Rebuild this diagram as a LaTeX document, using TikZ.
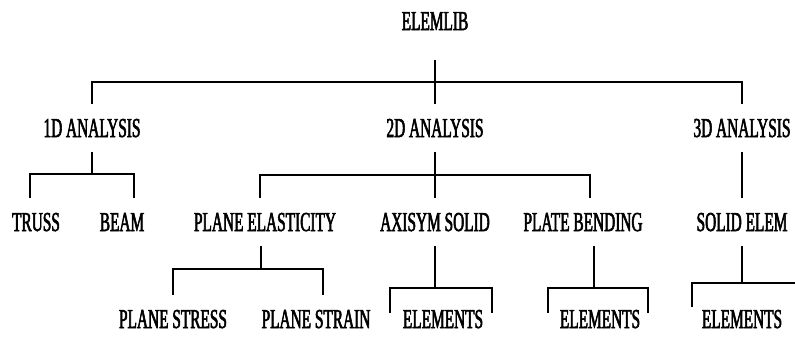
\documentclass[tikz,border=0pt]{standalone}
\usepackage{fontspec}
\setmainfont[FakeStretch=0.56,FakeBold=2]{Liberation Serif}

\begin{document}
\begin{tikzpicture}[x=0.025cm, y=-0.025cm, line width=1.3pt,
    lbl/.style={inner sep=0pt, outer ysep=10.5pt, text height=12.8pt, text depth=0pt,
      font=\fontsize{19.5}{20}\selectfont}]
  \useasboundingbox (0,0) rectangle (795,338);

  % library root and analysis types
  \node[lbl, outer ysep=21pt] (lib) at (435,21) {ELEMLIB};
  \node[lbl] (d1) at (92,128) {1D ANALYSIS};
  \node[lbl] (d2) at (435,128) {2D ANALYSIS};
  \node[lbl] (d3) at (742,128) {3D ANALYSIS};

  % element families
  \node[lbl] (b1) at (36,222) {TRUSS};
  \node[lbl] (b2) at (122,222) {BEAM};
  \node[lbl] (b3) at (265,222) {PLANE ELASTICITY};
  \node[lbl] (b4) at (435,222) {AXISYM SOLID};
  \node[lbl] (b5) at (583,222) {PLATE BENDING};
  \node[lbl] (b6) at (742,222) {SOLID ELEM};

  % bottom row
  \node[lbl] (c1) at (173,319) {PLANE STRESS};
  \node[lbl] (c2) at (316,319) {PLANE STRAIN};
  \node[lbl] (e1) at (443,319) {ELEMENTS};
  \node[lbl] (e2) at (600,319) {ELEMENTS};
  \node[lbl] (e3) at (742,319) {ELEMENTS};

  % top level
  \draw (lib) -- (d2);
  \draw (d1.north) -- ++(0,-22) -| (d3.north);

  % 1D
  \draw (d1.south) -- ++(0,22);
  \draw ([shift={(-6,0)}]b1.north) -- ++(0,-24) -| ([shift={(12,0)}]b2.north);

  % 2D
  \draw (d2) -- (b4);
  \draw ([shift={(-5,0)}]b3.north) -- ++(0,-23) -| ([shift={(7,0)}]b5.north);
  \draw ([shift={(-4,0)}]b3.south) -- ++(0,22);
  \draw (c1.north) -- ++(0,-26) -| ([shift={(7,0)}]c2.north);
  \draw (b4.south) -- ++(0,42) coordinate (k1);
  \draw ([shift={(-12,-6)}]e1.west) |- (k1) -| ([shift={(8,-6)}]e1.east);
  \draw ([shift={(11,0)}]b5.south) -- ++(0,42) coordinate (k2);
  \draw ([shift={(-11,-6)}]e2.west) |- (k2) -| ([shift={(7,-6)}]e2.east);

  % 3D
  \draw (d3) -- (b6);
  \draw (b6.south) -- ++(0,37) coordinate (k3);
  \draw ([shift={(-9,-12)}]e3.west) |- (k3) -- ++(53,0);
\end{tikzpicture}
\end{document}
